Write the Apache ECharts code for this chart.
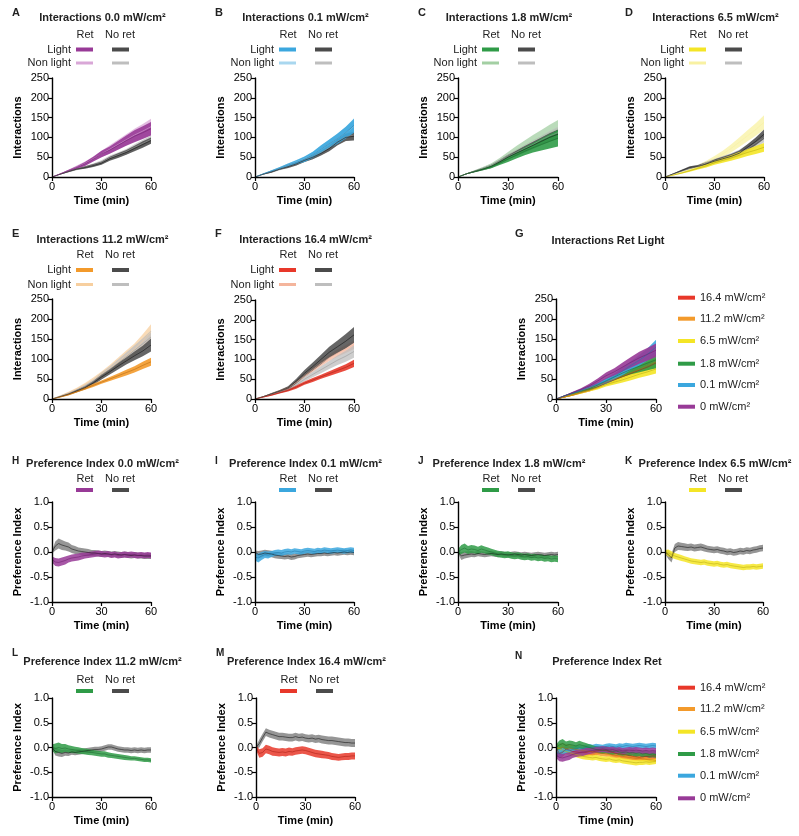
<!DOCTYPE html>
<html><head><meta charset="utf-8">
<script src="https://cdn.jsdelivr.net/npm/echarts@6/dist/echarts.min.js"></script>
<style>html,body{margin:0;padding:0;background:#fff}#c{width:799px;height:836px}</style>
</head><body><div id="c"></div>
<script>
// ---------- DATA ----------
const tInt = [0,5,10,15,20,25,30,35,40,45,50,55,60];
const tPI = [0,2,4,6,8,10,12,14,16,18,20,22,24,26,28,30,32,34,36,38,40,42,44,46,48,50,52,54,56,58,60];
const intTicks = [0,50,100,150,200,250];
const piTicks = [-1.0,-0.5,0.0,0.5,1.0];
const timeTicks = [0,30,60];

// Interactions: rl = Ret Light, rn = Ret Non light, nl = No ret Light, nn = No ret Non light; _m mean, _s sem
const a_rl_m = [0,8,16,24,33,45,58,68,80,92,103,112,122];
const a_rl_s = [0,1,2,3,5,6,8,9,11,13,15,16,17];
const a_rn_m = [0,8,16,25,34,46,58,70,82,94,106,116,127];
const a_rn_s = [0,1,2,4,5,6,8,10,12,14,16,18,20];
const a_nl_m = [0,7,14,20,24,29,35,46,54,62,72,82,92];
const a_nl_s = [0,1,2,2,3,4,4,5,6,6,7,8,8];
const a_nn_m = [0,7,14,20,25,30,37,48,56,64,75,85,95];
const a_nn_s = [0,1,2,3,3,4,5,6,6,7,8,9,10];

const b_rl_m = [0,8,15,22,30,37,45,56,70,84,97,112,130];
const b_rl_s = [0,1,2,3,4,5,7,8,10,11,13,15,18];
const b_rn_m = [0,8,15,22,30,38,46,56,70,84,97,112,128];
const b_rn_s = [0,1,2,3,4,5,6,8,9,11,12,14,16];
const b_nl_m = [0,7,13,20,26,33,42,50,60,72,88,100,103];
const b_nl_s = [0,1,2,2,3,4,4,5,6,7,8,9,11];
const b_nn_m = [0,7,13,20,26,33,43,51,62,74,89,101,106];
const b_nn_s = [0,1,2,3,4,4,5,6,7,8,9,10,12];

const c_rl_m = [0,8,14,20,26,35,45,55,65,74,82,90,98];
const c_rl_s = [0,1,2,3,4,5,7,8,10,12,15,18,21];
const c_rn_m = [0,8,15,22,30,42,55,68,80,92,102,112,122];
const c_rn_s = [0,1,2,3,5,6,8,10,12,14,17,20,22];
const c_nl_m = [0,8,14,20,27,38,50,60,70,80,90,100,108];
const c_nl_s = [0,1,2,3,4,5,6,7,8,9,10,11,12];
const c_nn_m = [0,8,15,22,29,40,52,62,72,82,94,104,112];
const c_nn_s = [0,1,2,3,4,5,6,7,8,9,10,12,14];

const d_rl_m = [0,5,10,16,22,28,36,42,48,55,62,68,75];
const d_rl_s = [0,1,2,3,3,4,5,6,7,8,9,10,11];
const d_rn_m = [0,6,12,18,26,36,46,58,72,88,104,120,138];
const d_rn_s = [0,1,2,3,4,5,7,8,10,12,14,16,18];
const d_nl_m = [0,8,16,24,27,33,40,46,52,60,75,90,108];
const d_nl_s = [0,1,2,3,3,4,5,5,6,7,8,10,12];
const d_nn_m = [0,8,15,22,27,34,40,46,52,60,72,86,100];
const d_nn_s = [0,1,2,3,4,5,6,7,8,9,10,11,13];

const e_rl_m = [0,5,11,18,26,34,42,50,58,66,74,84,93];
const e_rl_s = [0,1,2,2,3,4,4,5,6,7,8,9,10];
const e_rn_m = [0,8,16,25,36,48,62,76,92,108,124,145,168];
const e_rn_s = [0,1,2,3,4,6,7,9,11,13,15,17,19];
const e_nl_m = [0,6,12,20,28,40,55,68,82,95,108,120,135];
const e_nl_s = [0,1,2,3,4,5,6,7,8,9,11,13,16];
const e_nn_m = [0,7,14,22,32,44,60,74,90,106,122,138,155];
const e_nn_s = [0,1,2,3,4,5,6,7,9,10,12,14,16];

const f_rl_m = [0,5,10,16,22,30,40,48,56,64,72,80,90];
const f_rl_s = [0,1,2,2,3,4,4,5,5,6,7,8,9];
const f_rn_m = [0,6,13,20,28,42,58,74,90,104,116,126,137];
const f_rn_s = [0,1,2,3,3,4,5,6,7,8,9,10,11];
const f_nl_m = [0,6,13,20,28,45,65,82,100,118,132,146,162];
const f_nl_s = [0,1,2,3,4,6,8,10,12,14,16,18,20];
const f_nn_m = [0,6,12,18,24,35,50,62,74,86,98,108,120];
const f_nn_s = [0,1,2,3,4,5,6,7,9,10,12,14,16];

// Preference index: r = Ret, n = No ret
const h_r_m = [-0.15,-0.2,-0.21,-0.19,-0.17,-0.14,-0.12,-0.11,-0.1,-0.08,-0.07,-0.06,-0.05,-0.04,-0.03,-0.04,-0.05,-0.04,-0.06,-0.05,-0.07,-0.06,-0.05,-0.06,-0.05,-0.06,-0.07,-0.06,-0.07,-0.06,-0.07];
const h_r_s = [0.06,0.08,0.08,0.08,0.08,0.07,0.07,0.07,0.07,0.07,0.06,0.06,0.06,0.06,0.06,0.06,0.06,0.06,0.06,0.06,0.06,0.06,0.06,0.06,0.06,0.06,0.06,0.06,0.06,0.06,0.06];
const h_n_m = [0.0,0.12,0.17,0.14,0.12,0.1,0.06,0.04,0.02,0.01,0.0,-0.01,-0.02,-0.02,-0.03,-0.04,-0.03,-0.04,-0.05,-0.04,-0.05,-0.06,-0.05,-0.06,-0.07,-0.06,-0.07,-0.07,-0.08,-0.08,-0.08];
const h_n_s = [0.03,0.09,0.1,0.1,0.09,0.09,0.08,0.08,0.07,0.07,0.07,0.07,0.06,0.06,0.06,0.06,0.06,0.06,0.06,0.06,0.06,0.06,0.06,0.06,0.06,0.06,0.06,0.06,0.06,0.06,0.06];

const i_r_m = [-0.1,-0.12,-0.08,-0.05,-0.06,-0.04,-0.02,-0.01,-0.02,0.0,0.01,0.0,0.02,0.01,0.0,0.02,0.03,0.02,0.01,0.03,0.02,0.04,0.03,0.02,0.03,0.04,0.03,0.02,0.03,0.04,0.03];
const i_r_s = [0.07,0.09,0.08,0.07,0.07,0.06,0.06,0.06,0.06,0.06,0.06,0.055,0.055,0.055,0.055,0.055,0.055,0.055,0.055,0.055,0.055,0.055,0.055,0.055,0.055,0.055,0.055,0.055,0.055,0.055,0.055];
const i_n_m = [0.0,-0.05,-0.04,-0.02,-0.03,-0.04,-0.06,-0.07,-0.08,-0.09,-0.08,-0.1,-0.09,-0.07,-0.06,-0.05,-0.04,-0.05,-0.04,-0.03,-0.03,-0.02,-0.03,-0.02,-0.01,-0.02,-0.01,0.0,-0.01,0.0,-0.01];
const i_n_s = [0.03,0.07,0.07,0.065,0.065,0.065,0.065,0.065,0.06,0.06,0.06,0.06,0.06,0.055,0.055,0.055,0.055,0.055,0.055,0.055,0.055,0.055,0.055,0.055,0.055,0.055,0.055,0.055,0.055,0.055,0.055];

const j_r_m = [0.0,0.05,0.08,0.04,0.06,0.05,0.03,0.06,0.04,0.02,0.0,-0.02,-0.04,-0.05,-0.06,-0.05,-0.07,-0.08,-0.07,-0.09,-0.1,-0.09,-0.11,-0.1,-0.12,-0.11,-0.13,-0.12,-0.14,-0.13,-0.14];
const j_r_s = [0.06,0.09,0.09,0.08,0.08,0.08,0.075,0.075,0.07,0.07,0.065,0.065,0.065,0.065,0.065,0.065,0.065,0.065,0.065,0.065,0.065,0.065,0.065,0.065,0.065,0.065,0.065,0.065,0.065,0.065,0.065];
const j_n_m = [0.0,-0.08,-0.06,-0.05,-0.04,-0.05,-0.03,-0.04,-0.05,-0.04,-0.03,-0.04,-0.05,-0.04,-0.05,-0.06,-0.05,-0.04,-0.05,-0.06,-0.05,-0.06,-0.07,-0.06,-0.05,-0.06,-0.07,-0.06,-0.05,-0.06,-0.05];
const j_n_s = [0.03,0.08,0.07,0.065,0.06,0.055,0.055,0.055,0.055,0.055,0.055,0.055,0.055,0.055,0.055,0.055,0.055,0.055,0.055,0.055,0.055,0.055,0.055,0.055,0.055,0.055,0.055,0.055,0.055,0.055,0.055];

const k_r_m = [0.0,-0.02,-0.05,-0.08,-0.1,-0.12,-0.14,-0.16,-0.18,-0.19,-0.2,-0.21,-0.2,-0.22,-0.23,-0.24,-0.23,-0.25,-0.26,-0.25,-0.27,-0.28,-0.29,-0.3,-0.31,-0.3,-0.3,-0.29,-0.3,-0.29,-0.28];
const k_r_s = [0.04,0.07,0.065,0.06,0.06,0.06,0.055,0.055,0.055,0.055,0.055,0.055,0.055,0.055,0.055,0.055,0.055,0.055,0.055,0.055,0.055,0.055,0.055,0.055,0.055,0.055,0.055,0.055,0.055,0.055,0.055];
const k_n_m = [0.0,-0.05,-0.12,0.08,0.12,0.11,0.1,0.09,0.1,0.08,0.09,0.1,0.08,0.06,0.05,0.04,0.05,0.03,0.02,0.0,0.01,-0.01,0.0,0.02,0.01,0.03,0.02,0.04,0.05,0.07,0.08];
const k_n_s = [0.03,0.09,0.09,0.08,0.08,0.075,0.075,0.07,0.07,0.07,0.07,0.07,0.07,0.065,0.065,0.065,0.065,0.065,0.065,0.065,0.065,0.065,0.065,0.065,0.065,0.065,0.065,0.065,0.065,0.065,0.065];

const l_r_m = [0.0,-0.02,0.0,-0.02,-0.01,-0.03,-0.04,-0.05,-0.06,-0.07,-0.08,-0.09,-0.1,-0.11,-0.12,-0.13,-0.13,-0.15,-0.16,-0.17,-0.18,-0.19,-0.2,-0.21,-0.22,-0.22,-0.23,-0.24,-0.25,-0.25,-0.26];
const l_r_s = [0.06,0.1,0.1,0.09,0.08,0.075,0.07,0.065,0.065,0.06,0.06,0.06,0.055,0.055,0.055,0.055,0.055,0.055,0.05,0.05,0.05,0.05,0.05,0.05,0.045,0.045,0.045,0.045,0.045,0.045,0.045];
const l_n_m = [0.0,-0.08,-0.1,-0.12,-0.1,-0.11,-0.09,-0.1,-0.09,-0.08,-0.07,-0.06,-0.05,-0.04,-0.04,-0.03,-0.01,0.01,0.01,-0.01,-0.03,-0.04,-0.05,-0.05,-0.06,-0.05,-0.06,-0.05,-0.06,-0.05,-0.05];
const l_n_s = [0.03,0.08,0.08,0.07,0.065,0.06,0.055,0.055,0.055,0.055,0.055,0.055,0.055,0.055,0.055,0.055,0.055,0.055,0.055,0.055,0.055,0.055,0.055,0.055,0.055,0.055,0.055,0.055,0.055,0.055,0.055];

const m_r_m = [0.0,-0.12,-0.1,-0.03,-0.05,-0.08,-0.09,-0.1,-0.09,-0.1,-0.08,-0.09,-0.07,-0.06,-0.05,-0.06,-0.08,-0.1,-0.12,-0.13,-0.14,-0.15,-0.16,-0.18,-0.19,-0.2,-0.19,-0.18,-0.18,-0.17,-0.17];
const m_r_s = [0.05,0.085,0.085,0.085,0.085,0.085,0.08,0.08,0.08,0.08,0.08,0.075,0.075,0.075,0.075,0.075,0.075,0.075,0.075,0.075,0.075,0.07,0.07,0.07,0.07,0.07,0.07,0.07,0.07,0.07,0.07];
const m_n_m = [0.0,0.08,0.2,0.31,0.28,0.26,0.24,0.22,0.22,0.21,0.2,0.2,0.22,0.2,0.21,0.19,0.18,0.19,0.17,0.18,0.16,0.15,0.14,0.14,0.13,0.12,0.11,0.1,0.1,0.09,0.09];
const m_n_s = [0.03,0.08,0.08,0.08,0.08,0.08,0.08,0.08,0.08,0.08,0.08,0.08,0.08,0.08,0.08,0.08,0.08,0.08,0.08,0.08,0.08,0.08,0.08,0.08,0.08,0.08,0.08,0.08,0.08,0.08,0.08];

const doseLabels = ['16.4 mW/cm\u00B2','11.2 mW/cm\u00B2','6.5 mW/cm\u00B2','1.8 mW/cm\u00B2','0.1 mW/cm\u00B2','0 mW/cm\u00B2'];

// ---------- STYLE / LAYOUT ----------
const FONT = '"Liberation Sans", Arial, Helvetica, sans-serif';
const COL = {
  purple:['#983A97','#D9A7D7','#6E1F6D'],
  blue:['#3BA7DE','#A9D7EF','#1E78AA'],
  green:['#2F9B47','#A3CFA3','#1C6B2E'],
  yellow:['#F4E526','#F8F1A2','#B8AA10'],
  orange:['#F39A2B','#F7CF9F','#B56A10'],
  red:['#E8382A','#F4B59C','#A81F14'],
  grey:['#4B4B4B','#BEBEBE','#111111']
};
const LAY = {
  A:[52,78,99,99], B:[255,78,99,99], C:[458,78,100,99], D:[665,78,99,99],
  E:[52,299,99,100], F:[255,300,99,99], G:[556,299,100,100],
  H:[52,502,99,100], I:[255,502,99,100], J:[458,502,100,100], K:[665,502,98,100],
  L:[52,698,99,99], M:[256,698,99,99], N:[556,698,100,99]
};

const grids=[], xAxes=[], yAxes=[], series=[], graphics=[];
let gi=0;

function addGrid(key, isPI){
  const [l,t,w,h]=LAY[key];
  grids.push({left:l, top:t, width:w, height:h, containLabel:false, outerBoundsMode:'none'});
  const axisCommon = {
    axisLine:{show:true, lineStyle:{color:'#000', width:1.4}},
    axisTick:{show:true, length:4, inside:false, lineStyle:{color:'#000', width:1.2}},
    splitLine:{show:false},
    axisLabel:{color:'#000', fontFamily:FONT, fontSize:11, margin:3},
    nameTextStyle:{color:'#000', fontFamily:FONT, fontSize:11, fontWeight:'bold'},
    z:5
  };
  xAxes.push(Object.assign({}, axisCommon, {
    type:'value', gridIndex:gi, min:timeTicks[0], max:timeTicks[2], interval:timeTicks[1]-timeTicks[0],
    name:'Time (min)', nameLocation:'middle', nameGap:18,
    axisLine:{show:true, onZero:false, lineStyle:{color:'#000', width:1.4}},
    axisLabel:Object.assign({}, axisCommon.axisLabel, {margin:4})
  }));
  yAxes.push(Object.assign({}, axisCommon, isPI ? {
    type:'value', gridIndex:gi, min:piTicks[0], max:piTicks[4], interval:0.5,
    name:'Preference Index', nameLocation:'middle', nameGap:29,
    axisLabel:Object.assign({}, axisCommon.axisLabel, {formatter:v=>v.toFixed(1)})
  } : {
    type:'value', gridIndex:gi, min:intTicks[0], max:intTicks[5], interval:intTicks[1]-intTicks[0],
    name:'Interactions', nameLocation:'middle', nameGap:29
  }));
  return gi++;
}

function band(g, xs, m, s, fill, line, op){
  const data=xs.map((x,i)=>[x, m[i]-s[i], m[i]+s[i]]);
  series.push({
    type:'custom', xAxisIndex:g, yAxisIndex:g, silent:true, animation:false, clip:true,
    encode:{x:0, y:[1,2]}, data:data,
    renderItem:function(params, api){
      if(params.dataIndex!==0) return null;
      const pts=[];
      for(let i=0;i<data.length;i++) pts.push(api.coord([data[i][0], data[i][2]]));
      for(let i=data.length-1;i>=0;i--) pts.push(api.coord([data[i][0], data[i][1]]));
      return {type:'polygon', shape:{points:pts}, style:{fill:fill, opacity:op}};
    }
  });
  series.push({type:'line', xAxisIndex:g, yAxisIndex:g, symbol:'none', silent:true, animation:false,
    data:xs.map((x,i)=>[x, m[i]]), lineStyle:{color:line, width:0.7, opacity:0.8}});
}

function txt(x,y,text,opt){
  opt=opt||{};
  graphics.push({type:'text', x:x, y:y, silent:true, style:{text:text, fill:opt.fill||'#111',
    font:(opt.bold?'bold ':'')+(opt.size||11)+'px '+FONT, align:opt.align||'center', verticalAlign:'middle'}});
}
function rect(x,y,w,h,fill,op){
  graphics.push({type:'rect', silent:true, shape:{x:x,y:y-h/2,width:w,height:h}, style:{fill:fill, opacity:op==null?1:op}});
}

// Interaction panels
const intPanels = [
  {k:'A', t:'Interactions 0.0 mW/cm\u00B2', c:'purple', d:[a_rl_m,a_rl_s,a_rn_m,a_rn_s,a_nl_m,a_nl_s,a_nn_m,a_nn_s], row:0},
  {k:'B', t:'Interactions 0.1 mW/cm\u00B2', c:'blue', d:[b_rl_m,b_rl_s,b_rn_m,b_rn_s,b_nl_m,b_nl_s,b_nn_m,b_nn_s], row:0},
  {k:'C', t:'Interactions 1.8 mW/cm\u00B2', c:'green', d:[c_rl_m,c_rl_s,c_rn_m,c_rn_s,c_nl_m,c_nl_s,c_nn_m,c_nn_s], row:0},
  {k:'D', t:'Interactions 6.5 mW/cm\u00B2', c:'yellow', d:[d_rl_m,d_rl_s,d_rn_m,d_rn_s,d_nl_m,d_nl_s,d_nn_m,d_nn_s], row:0},
  {k:'E', t:'Interactions 11.2 mW/cm\u00B2', c:'orange', d:[e_rl_m,e_rl_s,e_rn_m,e_rn_s,e_nl_m,e_nl_s,e_nn_m,e_nn_s], row:1},
  {k:'F', t:'Interactions 16.4 mW/cm\u00B2', c:'red', d:[f_rl_m,f_rl_s,f_rn_m,f_rn_s,f_nl_m,f_nl_s,f_nn_m,f_nn_s], row:1}
];
const rowY = [{title:18, letter:13, head:35, light:49.5, non:63},{title:239.5, letter:234, head:255, light:270, non:284.5}];
intPanels.forEach(p=>{
  const g=addGrid(p.k,false);
  const [l,t,w,h]=LAY[p.k];
  const c=COL[p.c], gr=COL.grey, D=p.d;
  band(g,tInt,D[2],D[3],c[1],c[1],0.75);
  band(g,tInt,D[6],D[7],gr[1],'#999',0.75);
  band(g,tInt,D[4],D[5],gr[0],gr[2],0.85);
  band(g,tInt,D[0],D[1],c[0],c[2],0.9);
  const ry=rowY[p.row];
  txt(l+w/2+1, ry.title, p.t, {bold:true, fill:'#222'});
  txt(l-40, ry.letter, p.k, {bold:true, align:'left', fill:'#222'});
  txt(l+33, ry.head, 'Ret', {fill:'#222'});
  txt(l+68, ry.head, 'No ret', {fill:'#222'});
  txt(l+19, ry.light, 'Light', {align:'right', fill:'#222'});
  txt(l+19, ry.non, 'Non light', {align:'right', fill:'#222'});
  rect(l+24, ry.light, 17, 4, c[0]);
  rect(l+24, ry.non, 17, 3, c[1]);
  rect(l+60, ry.light, 17, 4, gr[0]);
  rect(l+60, ry.non, 17, 3, gr[1]);
});

// Panel G
(function(){
  const g=addGrid('G',false);
  const [l,t,w,h]=LAY.G;
  const order=[['red',f_rl_m,f_rl_s],['orange',e_rl_m,e_rl_s],['yellow',d_rl_m,d_rl_s],['green',c_rl_m,c_rl_s],['blue',b_rl_m,b_rl_s],['purple',a_rl_m,a_rl_s]];
  order.forEach(o=>band(g,tInt,o[1],o[2],COL[o[0]][0],COL[o[0]][2],0.9));
  txt(l+w/2+2, 240.5, 'Interactions Ret Light', {bold:true, fill:'#222'});
  txt(l-41, 234, 'G', {bold:true, align:'left', fill:'#222'});
  const ys=[297.7,318.7,341,363.7,385,406.7];
  ['red','orange','yellow','green','blue','purple'].forEach((c,i)=>{
    rect(678, ys[i], 17, 4, COL[c][0]);
    txt(700, ys[i], doseLabels[i], {align:'left', fill:'#222'});
  });
})();

// Preference panels
const piPanels = [
  {k:'H', t:'Preference Index 0.0 mW/cm\u00B2', c:'purple', d:[h_r_m,h_r_s,h_n_m,h_n_s], row:0},
  {k:'I', t:'Preference Index 0.1 mW/cm\u00B2', c:'blue', d:[i_r_m,i_r_s,i_n_m,i_n_s], row:0},
  {k:'J', t:'Preference Index 1.8 mW/cm\u00B2', c:'green', d:[j_r_m,j_r_s,j_n_m,j_n_s], row:0},
  {k:'K', t:'Preference Index 6.5 mW/cm\u00B2', c:'yellow', d:[k_r_m,k_r_s,k_n_m,k_n_s], row:0},
  {k:'L', t:'Preference Index 11.2 mW/cm\u00B2', c:'green', d:[l_r_m,l_r_s,l_n_m,l_n_s], row:1},
  {k:'M', t:'Preference Index 16.4 mW/cm\u00B2', c:'red', d:[m_r_m,m_r_s,m_n_m,m_n_s], row:1}
];
const piRowY=[{title:464, letter:461, head:479, sw:490},{title:661.7, letter:653, head:680, sw:691}];
piPanels.forEach(p=>{
  const g=addGrid(p.k,true);
  const [l,t,w,h]=LAY[p.k];
  const c=COL[p.c], gr=COL.grey, D=p.d;
  band(g,tPI,D[2],D[3],'#6A6A6A','#111',0.7);
  band(g,tPI,D[0],D[1],c[0],c[2],0.85);
  const ry=piRowY[p.row];
  txt(l+w/2+1, ry.title, p.t, {bold:true, fill:'#222'});
  txt(l-40, ry.letter, p.k, {bold:true, align:'left', fill:'#222', size:10});
  txt(l+33, ry.head, 'Ret', {fill:'#222'});
  txt(l+68, ry.head, 'No ret', {fill:'#222'});
  rect(l+24, ry.sw, 17, 4, c[0]);
  rect(l+60, ry.sw, 17, 4, gr[0]);
});

// Panel N
(function(){
  const g=addGrid('N',true);
  const [l,t,w,h]=LAY.N;
  const order=[['red',m_r_m,m_r_s],['orange',l_r_m,l_r_s],['yellow',k_r_m,k_r_s],['blue',i_r_m,i_r_s],['green',j_r_m,j_r_s],['purple',h_r_m,h_r_s]];
  order.forEach(o=>band(g,tPI,o[1],o[2],COL[o[0]][0],COL[o[0]][2],0.85));
  txt(l+w/2+1, 661.7, 'Preference Index Ret', {bold:true, fill:'#222'});
  txt(l-41, 656, 'N', {bold:true, align:'left', fill:'#222', size:10});
  const ys=[687.7,709,731.7,754,775.7,798.3];
  ['red','orange','yellow','green','blue','purple'].forEach((c,i)=>{
    rect(678, ys[i], 17, 4, COL[c][0]);
    txt(700, ys[i], doseLabels[i], {align:'left', fill:'#222'});
  });
})();

const chart = echarts.init(document.getElementById('c'), null, {renderer:'canvas'});
chart.setOption({
  animation:false,
  backgroundColor:'#fff',
  grid:grids, xAxis:xAxes, yAxis:yAxes, series:series,
  graphic:{elements:graphics}
});
</script></body></html>
